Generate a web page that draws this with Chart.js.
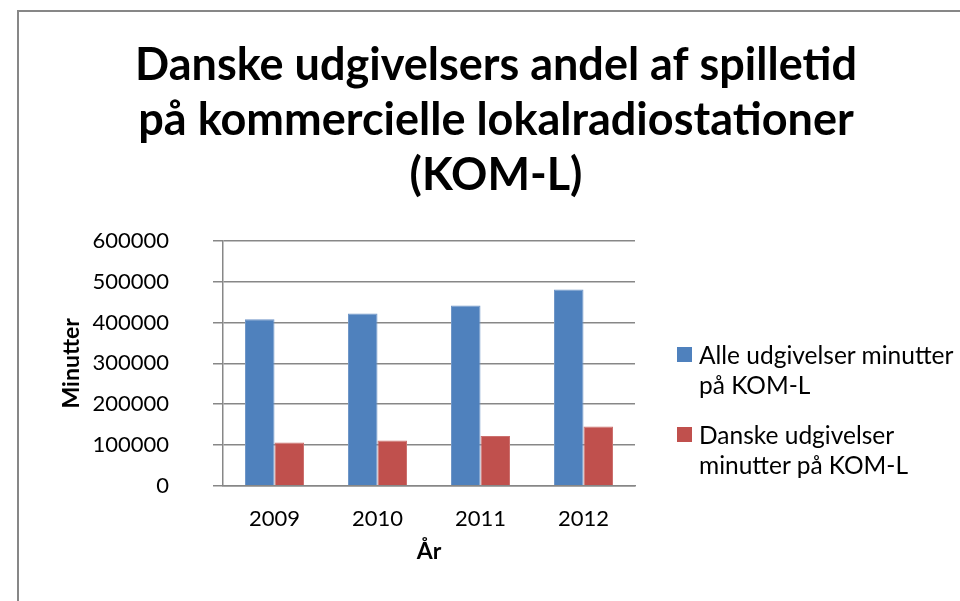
<!DOCTYPE html>
<html><head><meta charset="utf-8">
<script src="https://cdn.jsdelivr.net/npm/chart.js@4.4.1/dist/chart.umd.min.js"></script>
<style>
html,body{margin:0;padding:0;background:#fff;overflow:hidden;width:960px;height:601px;}
#frame{position:absolute;left:17px;top:10px;width:1000px;height:700px;border:2px solid #878787;}
#wrap{position:absolute;left:0;top:0;width:960px;height:601px;}
#legend{position:absolute;left:677px;top:340px;font-family:Lato,sans-serif;font-size:24.5px;line-height:30px;color:#000;}
.item{position:relative;padding-left:22px;margin-bottom:20px;white-space:nowrap;}
.sw{position:absolute;left:0;top:7px;width:15px;height:15px;}
</style></head><body>
<div id="frame"></div>
<div id="wrap"><canvas id="c" width="960" height="601"></canvas></div>
<div id="legend"></div>
<script>
const categories = ['2009', '2010', '2011', '2012'];
const allMinutes = [408000, 422000, 442000, 481000];
const danishMinutes = [106000, 111000, 122000, 145000];
const seriesNames = ['Alle udgivelser minutter på KOM-L', 'Danske udgivelser minutter på KOM-L'];
const legendLines = [['Alle udgivelser minutter', 'på KOM-L'], ['Danske udgivelser', 'minutter på KOM-L']];
const titleLines = ['Danske udgivelsers andel af spilletid', 'på kommercielle lokalradiostationer', '(KOM-L)'];
const yTitle = 'Minutter';
const xTitle = 'År';
const yMin = 0, yMax = 600000, yStep = 100000;
const colors = ['#4F81BD', '#C0504D'];
const borderColors = ['#7096C8', '#CC706E'];

const FONT = 'Lato, "Open Sans", sans-serif';
const GRID = '#878787';

const chart = new Chart(document.getElementById('c'), {
  type: 'bar',
  data: {
    labels: categories,
    datasets: [
      { label: seriesNames[0], data: allMinutes, backgroundColor: colors[0], borderColor: borderColors[0], borderWidth: 1, categoryPercentage: 0.573, barPercentage: 1.0 },
      { label: seriesNames[1], data: danishMinutes, backgroundColor: colors[1], borderColor: borderColors[1], borderWidth: 1, categoryPercentage: 0.573, barPercentage: 1.0 }
    ]
  },
  options: {
    responsive: false,
    animation: false,
    devicePixelRatio: 1,
    layout: { padding: { left: 32, right: 0, top: 0, bottom: 0 } },
    plugins: {
      legend: { display: false },
      tooltip: { enabled: false },
      title: {
        display: true,
        text: titleLines,
        color: '#000',
        font: { family: FONT, size: 45, weight: 'bold', lineHeight: 1.222 },
        padding: { top: 38, bottom: 38 }
      }
    },
    scales: {
      x: {
        grid: { display: false, drawTicks: false },
        border: { display: true, color: GRID, width: 1.5 },
        ticks: { color: '#000', font: { family: FONT, size: 22 }, padding: 20 },
        title: { display: true, text: xTitle, color: '#000', font: { family: FONT, size: 23, weight: 'bold', lineHeight: 1.2 }, padding: { top: 0, bottom: 36 } },
        afterFit: s => { s.height = 115.3; }
      },
      y: {
        min: yMin, max: yMax,
        grid: { color: GRID, lineWidth: 1.5, drawTicks: true, tickLength: 10, tickColor: GRID },
        border: { display: true, color: GRID, width: 1.5 },
        ticks: { stepSize: yStep, color: '#000', font: { family: FONT, size: 22 }, padding: 44, callback: v => String(v) },
        title: { display: true, text: yTitle, color: '#000', font: { family: FONT, size: 23, weight: 'bold', lineHeight: 1.2 }, padding: { top: 26, bottom: 0 } },
        afterFit: s => { s.width = 191; }
      },
      legendSpace: {
        type: 'linear', position: 'right', display: true,
        grid: { display: false, drawTicks: false },
        border: { display: false },
        ticks: { display: false },
        afterFit: s => { s.width = 325; }
      }
    }
  }
});

// HTML legend built from the dataset colours and label lines
const legendEl = document.getElementById('legend');
chart.data.datasets.forEach((ds, i) => {
  const item = document.createElement('div');
  item.className = 'item';
  const sw = document.createElement('span');
  sw.className = 'sw';
  sw.style.background = ds.backgroundColor;
  item.appendChild(sw);
  legendLines[i].forEach((line, j) => {
    if (j) item.appendChild(document.createElement('br'));
    item.appendChild(document.createTextNode(line));
  });
  legendEl.appendChild(item);
});
</script>
</body></html>
